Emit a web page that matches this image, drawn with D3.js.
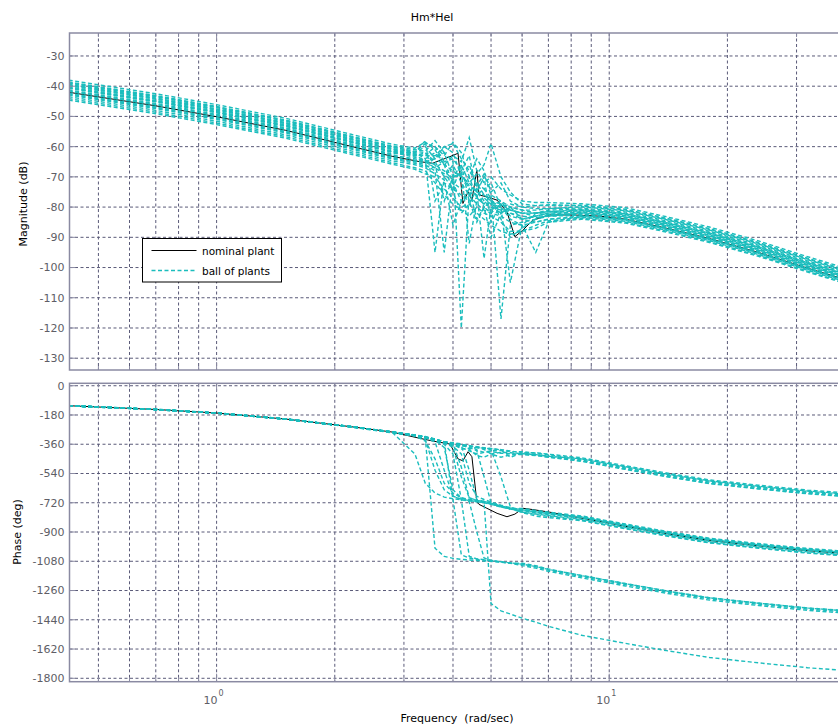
<!DOCTYPE html>
<html>
<head>
<meta charset="utf-8">
<script src="https://cdn.jsdelivr.net/npm/d3@7"></script>
<style>
  body { margin: 0; background: #fff; }
  svg { display: block; font-family: "DejaVu Sans", Verdana, sans-serif; }
  .tick-label { font-size: 11px; fill: #5e5e66; }
  .axis-label { font-size: 11px; fill: #000; }
  .legend-text { font-size: 10.5px; fill: #000; }
</style>
</head>
<body>
<div id="bode"></div>
<script>
// nominal plant (black)
var nomFreq  = [0.42, 0.7, 1.0, 1.5, 2.2, 2.8, 3.3, 3.55, 3.93, 4.12, 4.24, 4.37, 4.47, 4.6, 4.66, 4.88, 5.18, 5.49, 5.75, 6.03, 6.39, 7.06, 8.08, 9.47, 11, 14, 18, 24, 32, 40];
var nomMag   = [-42.0, -46.5, -50.1, -54.6, -59.9, -63.2, -65.0, -65.5, -63.3, -62.2, -78.8, -74.9, -77.7, -67.7, -76.0, -76.6, -77.7, -81.6, -89.8, -87.6, -84.3, -82.6, -82.6, -83.0, -84.0, -87.0, -90.4, -95.0, -100.2, -104.0];
var nomPhase = [-123, -146, -168, -205, -252, -285, -324, -340, -359, -450, -462, -406, -437, -714, -730, -754, -785, -806, -790, -754, -762, -778, -805, -835, -865, -910, -952, -985, -1015, -1032];

// ball of plants (cyan), all on one frequency grid
var ballFreq = [0.42, 0.7, 1.0, 1.5, 2.2, 2.8, 3.2, 3.4, 3.6, 3.8, 4.0, 4.2, 4.4, 4.6, 4.8, 5.0, 5.3, 5.6, 6.0, 6.5, 7.0, 8.5, 11, 14, 18, 24, 32, 40];

var ballMag = [
  [-38.0, -42.5, -46.1, -50.6, -55.9, -59.2, -60.5, -58.5, -61, -66, -63, -65, -57, -68, -72, -70, -74, -76, -78, -78.5, -78.5, -78.9, -80.2, -83.2, -86.6, -91.2, -96.4, -100.2],
  [-38.6, -43.1, -46.7, -51.2, -56.5, -59.8, -61, -61.5, -58, -62, -70, -66, -72, -69, -66, -59, -70, -75, -79, -79.5, -79.5, -79.4, -80.7, -83.7, -87.1, -91.7, -96.9, -100.7],
  [-39.0, -43.5, -47.1, -51.6, -56.9, -60.2, -61.5, -62, -66, -78, -70, -69, -73, -75, -76, -78, -80, -79, -80, -80.5, -80.5, -79.9, -81.2, -84.2, -87.6, -92.2, -97.4, -101.2],
  [-39.4, -43.9, -47.5, -52.0, -57.3, -60.6, -62, -64, -95, -70, -66, -72, -76, -74, -78, -80, -82, -80, -81, -81, -80.5, -80.3, -81.6, -84.6, -88.0, -92.6, -97.8, -101.6],
  [-39.8, -44.3, -47.9, -52.4, -57.7, -61.0, -62.5, -63, -63, -60, -59, -64, -68, -72, -74, -72, -80, -105, -86, -82, -81, -80.7, -82.0, -85.0, -88.4, -93.0, -98.2, -102.0],
  [-40.2, -44.7, -48.3, -52.8, -58.1, -61.4, -63, -64.5, -66, -68, -71, -68, -63, -75, -97, -80, -78, -82, -84, -83, -82, -81.1, -82.4, -85.4, -88.8, -93.4, -98.6, -102.4],
  [-40.7, -45.2, -48.8, -53.3, -58.6, -61.9, -63.5, -65, -67, -69, -72, -74, -70, -77, -79, -76, -117, -86, -85, -84, -82.5, -81.5, -82.8, -85.8, -89.2, -93.8, -99.0, -102.8],
  [-41.2, -45.7, -49.3, -53.8, -59.1, -62.4, -62, -58, -78, -72, -74, -76, -78, -77, -79, -80, -81, -82, -83, -83.5, -83, -81.9, -83.2, -86.2, -89.6, -94.2, -99.4, -103.2],
  [-41.7, -46.2, -49.8, -54.3, -59.6, -62.9, -64, -65, -64, -62, -65, -120, -75, -72, -76, -78, -79, -81, -82, -83, -83, -82.3, -83.6, -86.6, -90.0, -94.6, -99.8, -103.6],
  [-42.3, -46.8, -50.4, -54.9, -60.2, -63.5, -65, -66, -68, -95, -70, -69, -74, -76, -74, -77, -84, -90, -87, -84, -83, -82.7, -84.0, -87.0, -90.4, -95.0, -100.2, -104.0],
  [-42.9, -47.4, -51.0, -55.5, -60.8, -64.1, -65.5, -66.5, -67, -65, -64, -68, -92, -78, -77, -79, -80, -84, -86, -95, -85, -83.1, -84.4, -87.4, -90.8, -95.4, -100.6, -104.4],
  [-43.5, -48.0, -51.6, -56.1, -61.4, -64.7, -66, -67, -69, -71, -86, -78, -76, -79, -81, -82, -83, -85, -86, -85, -84, -83.4, -84.7, -87.7, -91.1, -95.7, -100.9, -104.7],
  [-44.1, -48.6, -52.2, -56.7, -62.0, -65.3, -67, -68, -72, -76, -79, -81, -83, -80, -82, -83, -85, -88, -88, -86, -84.5, -83.7, -85.0, -88.0, -91.4, -96.0, -101.2, -105.0],
  [-44.6, -49.1, -52.7, -57.2, -62.5, -65.8, -67.5, -69, -70, -74, -77, -80, -79, -82, -84, -86, -88, -89, -88, -87, -85, -84.0, -85.3, -88.3, -91.7, -96.3, -101.5, -105.3],
  [-40.5, -45.0, -48.6, -53.1, -58.4, -61.7, -62, -60, -64, -66, -68, -70, -72, -75, -70, -85, -79, -81, -82, -82, -81.5, -81.2, -82.5, -85.5, -88.9, -93.5, -98.7, -102.5],
  [-38.8, -43.3, -46.9, -51.4, -56.7, -60.0, -61.8, -59, -60, -63, -58.5, -62, -70, -64, -68, -75, -72, -78, -80, -79.5, -79.2, -79.6, -81.0, -84.0, -87.4, -92.0, -97.2, -101.0],
  [-40.5, -45.0, -48.6, -53.1, -58.4, -61.7, -63, -62, -65, -70, -74, -66, -78, -85, -80, -82, -79, -83, -84, -83, -82, -81.7, -83.0, -86.0, -89.4, -94.0, -99.2, -103.0],
  [-42.6, -47.1, -50.7, -55.2, -60.5, -63.8, -65, -64, -62, -66, -75, -82, -79, -74, -80, -90, -82, -80, -84, -85, -84, -82.9, -84.2, -87.2, -90.6, -95.2, -100.4, -104.2],
  [-39.6, -44.1, -47.7, -52.2, -57.5, -60.8, -62.5, -63, -60, -65, -72, -78, -74, -84, -80, -78, -82, -81, -82, -82, -81.5, -80.9, -82.2, -85.2, -88.6, -93.2, -98.4, -102.2],
  [-41.5, -46.0, -49.6, -54.1, -59.4, -62.7, -64.5, -65.5, -64, -60, -62, -70, -66, -73, -69, -76, -78, -80, -81, -82, -82.5, -82.1, -83.4, -86.4, -89.8, -94.4, -99.6, -103.4]
];

var ballPhase = [
  [-122, -145, -167, -204, -251, -284, -303, -312, -328, -352, -360, -372, -368, -395, -410, -400, -398, -405, -406, -415, -425, -450, -500, -545, -587, -620, -650, -667],
  [-124, -147, -169, -206, -253, -286, -306, -318, -334, -347, -356, -364, -372, -380, -392, -420, -440, -425, -423, -430, -440, -465, -515, -560, -602, -635, -665, -682],
  [-123, -146, -168, -205, -253, -287, -420, -600, -660, -685, -695, -702, -708, -714, -718, -728, -744, -757, -760, -772, -782, -805, -855, -900, -942, -975, -1005, -1022],
  [-123, -146, -169, -206, -252, -285, -306, -330, -520, -640, -680, -698, -706, -713, -720, -730, -746, -759, -777, -789, -799, -822, -872, -917, -959, -992, -1022, -1039],
  [-122, -145, -167, -204, -251, -284, -304, -315, -329, -344, -354, -361, -369, -375, -381, -386, -395, -440, -413, -412, -421, -443, -492, -537, -579, -612, -642, -659],
  [-123, -146, -168, -205, -252, -285, -306, -317, -331, -346, -356, -365, -380, -400, -560, -720, -742, -756, -764, -777, -787, -810, -860, -905, -947, -980, -1010, -1027],
  [-124, -147, -168, -205, -252, -284, -304, -315, -329, -344, -355, -363, -371, -378, -385, -395, -560, -745, -778, -792, -804, -827, -877, -922, -964, -997, -1027, -1044],
  [-123, -146, -168, -205, -252, -286, -306, -320, -1000, -1050, -1062, -1068, -1072, -1075, -1078, -1080, -1086, -1092, -1092, -1107, -1127, -1167, -1217, -1262, -1304, -1337, -1367, -1384],
  [-122, -146, -168, -205, -252, -285, -305, -317, -331, -346, -358, -390, -385, -380, -384, -388, -393, -401, -414, -424, -434, -457, -506, -551, -593, -626, -656, -673],
  [-123, -146, -168, -205, -252, -285, -305, -318, -335, -380, -640, -690, -700, -708, -716, -726, -743, -757, -755, -767, -777, -801, -851, -896, -938, -971, -1001, -1018],
  [-123, -147, -169, -206, -253, -286, -306, -317, -331, -346, -357, -368, -520, -700, -712, -722, -740, -755, -780, -802, -812, -830, -880, -925, -967, -1000, -1030, -1047],
  [-123, -146, -168, -205, -252, -285, -305, -316, -330, -346, -700, -1040, -1060, -1068, -1073, -1077, -1085, -1092, -1107, -1122, -1142, -1182, -1232, -1277, -1319, -1352, -1382, -1399],
  [-124, -147, -169, -206, -254, -290, -310, -340, -450, -600, -660, -690, -703, -710, -717, -727, -744, -757, -770, -782, -792, -815, -865, -910, -952, -985, -1015, -1032],
  [-123, -146, -168, -205, -252, -286, -307, -322, -345, -520, -680, -700, -712, -900, -1060, -1074, -1084, -1091, -1099, -1114, -1134, -1174, -1224, -1269, -1311, -1344, -1374, -1391],
  [-123, -146, -168, -205, -252, -285, -305, -316, -330, -345, -356, -500, -690, -705, -715, -1340, -1385, -1405, -1430, -1455, -1480, -1535, -1585, -1630, -1672, -1705, -1735, -1752],
  [-123, -146, -168, -205, -252, -285, -305, -316, -332, -350, -365, -380, -400, -420, -410, -405, -415, -418, -420, -428, -438, -462, -512, -557, -600, -632, -662, -679],
  [-123, -146, -168, -205, -252, -285, -305, -317, -333, -349, -380, -560, -690, -705, -712, -722, -740, -752, -764, -776, -786, -808, -858, -903, -945, -978, -1008, -1025],
  [-123, -146, -168, -205, -252, -285, -305, -318, -334, -352, -372, -420, -600, -680, -700, -715, -735, -750, -762, -775, -786, -810, -860, -905, -947, -980, -1010, -1027],
  [-123, -146, -168, -205, -252, -285, -306, -318, -334, -360, -420, -700, -1050, -1065, -1070, -1076, -1083, -1090, -1098, -1112, -1130, -1168, -1218, -1263, -1305, -1338, -1368, -1385],
  [-123, -146, -168, -205, -252, -285, -305, -316, -330, -345, -350, -358, -390, -430, -440, -420, -410, -412, -418, -424, -434, -450, -498, -543, -585, -618, -648, -665]
];

var magTicks   = [-130, -120, -110, -100, -90, -80, -70, -60, -50, -40, -30];
var phaseTicks = [0, -180, -360, -540, -720, -900, -1080, -1260, -1440, -1620, -1800];
var freqMajor  = [1, 10];
var freqMinor  = [0.5, 0.6, 0.7, 0.8, 0.9, 2, 3, 4, 5, 6, 7, 8, 9, 20, 30];
var legendLabels = ['nominal plant', 'ball of plants'];

const dims = { width: 838, height: 726, left: 69.5, right: 845.6 };
const magBox   = { top: 33, bottom: 370 };
const phaseBox = { top: 383.3, bottom: 681.7 };

const gridColor = '#5a5a78';
const axisColor = '#8a8aa2';
const cyan = '#1bbdbd';

const x = d3.scaleLog().domain([0.422, 40]).range([dims.left, dims.right]);
const yMag = d3.scaleLinear().domain([-133.9, -22.4]).range([magBox.bottom, magBox.top]);
const yPhase = d3.scaleLinear().domain([-1821, 15]).range([phaseBox.bottom, phaseBox.top]);

const svg = d3.select('#bode').append('svg')
  .attr('width', dims.width)
  .attr('height', dims.height);

function drawPanel(box, yScale, yTicks, clipId, nomVals, ballVals) {
  const g = svg.append('g');

  svg.append('clipPath').attr('id', clipId)
    .append('rect')
    .attr('x', dims.left).attr('y', box.top)
    .attr('width', dims.right - dims.left).attr('height', box.bottom - box.top);

  // grid
  g.selectAll('line.hgrid').data(yTicks).enter().append('line')
    .attr('class', 'hgrid')
    .attr('x1', dims.left).attr('x2', dims.right)
    .attr('y1', d => yScale(d)).attr('y2', d => yScale(d))
    .attr('stroke', gridColor).attr('stroke-width', 1)
    .attr('stroke-dasharray', '3,2.5');

  g.selectAll('line.vgrid').data(freqMinor.concat(freqMajor)).enter().append('line')
    .attr('class', 'vgrid')
    .attr('x1', d => x(d)).attr('x2', d => x(d))
    .attr('y1', box.top).attr('y2', box.bottom)
    .attr('stroke', gridColor).attr('stroke-width', 1)
    .attr('stroke-dasharray', '3,2.5');

  // curves: nominal first, the ball drawn over it
  const line = d3.line()
    .x(d => x(d[0]))
    .y(d => yScale(d[1]));

  const curves = g.append('g').attr('clip-path', 'url(#' + clipId + ')');

  curves.append('path')
    .datum(nomFreq.map((f, i) => [f, nomVals[i]]))
    .attr('fill', 'none')
    .attr('stroke', '#000')
    .attr('stroke-width', 1)
    .attr('d', line);

  curves.selectAll('path.ball').data(ballVals).enter().append('path')
    .attr('class', 'ball')
    .attr('fill', 'none')
    .attr('stroke', cyan)
    .attr('stroke-width', 1.4)
    .attr('stroke-dasharray', '4,2.5')
    .attr('d', vals => line(ballFreq.map((f, i) => [f, vals[i]])));

  // ticks
  g.selectAll('line.ytick').data(yTicks).enter().append('line')
    .attr('x1', dims.left).attr('x2', dims.left + 6)
    .attr('y1', d => yScale(d)).attr('y2', d => yScale(d))
    .attr('stroke', axisColor).attr('stroke-width', 1);

  [[freqMajor, 8], [freqMinor, 4]].forEach(function (t) {
    g.selectAll(null).data(t[0]).enter().append('line')
      .attr('x1', d => x(d)).attr('x2', d => x(d))
      .attr('y1', box.top).attr('y2', box.top + t[1])
      .attr('stroke', axisColor).attr('stroke-width', 1);
    g.selectAll(null).data(t[0]).enter().append('line')
      .attr('x1', d => x(d)).attr('x2', d => x(d))
      .attr('y1', box.bottom).attr('y2', box.bottom - t[1])
      .attr('stroke', axisColor).attr('stroke-width', 1);
  });

  // frame
  g.append('rect')
    .attr('x', dims.left).attr('y', box.top)
    .attr('width', dims.right - dims.left).attr('height', box.bottom - box.top)
    .attr('fill', 'none')
    .attr('stroke', axisColor).attr('stroke-width', 1.5);

  g.selectAll('text.ylab').data(yTicks).enter().append('text')
    .attr('class', 'tick-label')
    .attr('x', dims.left - 5)
    .attr('y', d => yScale(d))
    .attr('dy', '0.36em')
    .attr('text-anchor', 'end')
    .text(d => d);

  return g;
}

drawPanel(magBox, yMag, magTicks, 'clipMag', nomMag, ballMag);
drawPanel(phaseBox, yPhase, phaseTicks, 'clipPhase', nomPhase, ballPhase);

// decade labels 10^n
const decade = svg.selectAll('text.xlab').data(freqMajor).enter().append('text')
  .attr('class', 'tick-label')
  .attr('x', d => x(d) - 3)
  .attr('y', 704)
  .attr('text-anchor', 'middle');
decade.append('tspan').text('10');
decade.append('tspan')
  .attr('dx', 1).attr('dy', -8)
  .style('font-size', '8px')
  .text(d => Math.round(Math.log10(d)));

// titles
svg.append('text').attr('class', 'axis-label')
  .attr('x', 432).attr('y', 21).attr('text-anchor', 'middle')
  .text('Hm*Hel');

svg.append('text').attr('class', 'axis-label')
  .attr('x', 457).attr('y', 722).attr('text-anchor', 'middle')
  .attr('xml:space', 'preserve')
  .style('white-space', 'pre')
  .text('Frequency  (rad/sec)');

svg.append('text').attr('class', 'axis-label')
  .attr('transform', 'translate(27,204) rotate(-90)')
  .attr('text-anchor', 'middle')
  .text('Magnitude (dB)');

svg.append('text').attr('class', 'axis-label')
  .attr('transform', 'translate(21,532) rotate(-90)')
  .attr('text-anchor', 'middle')
  .text('Phase (deg)');

// legend
const legend = svg.append('g');
legend.append('rect')
  .attr('x', 142.5).attr('y', 238.5)
  .attr('width', 139).attr('height', 43.5)
  .attr('fill', '#fff').attr('stroke', '#000').attr('stroke-width', 1);

legend.selectAll('line').data(legendLabels).enter().append('line')
  .attr('x1', 151.5).attr('x2', 196.5)
  .attr('y1', (d, i) => 250.5 + i * 20).attr('y2', (d, i) => 250.5 + i * 20)
  .attr('stroke', (d, i) => i === 0 ? '#000' : cyan)
  .attr('stroke-width', (d, i) => i === 0 ? 1 : 1.3)
  .attr('stroke-dasharray', (d, i) => i === 0 ? null : '4,2.5');

legend.selectAll('text').data(legendLabels).enter().append('text')
  .attr('class', 'legend-text')
  .attr('x', 202).attr('y', (d, i) => 254.5 + i * 20)
  .text(d => d);
</script>
</body>
</html>
